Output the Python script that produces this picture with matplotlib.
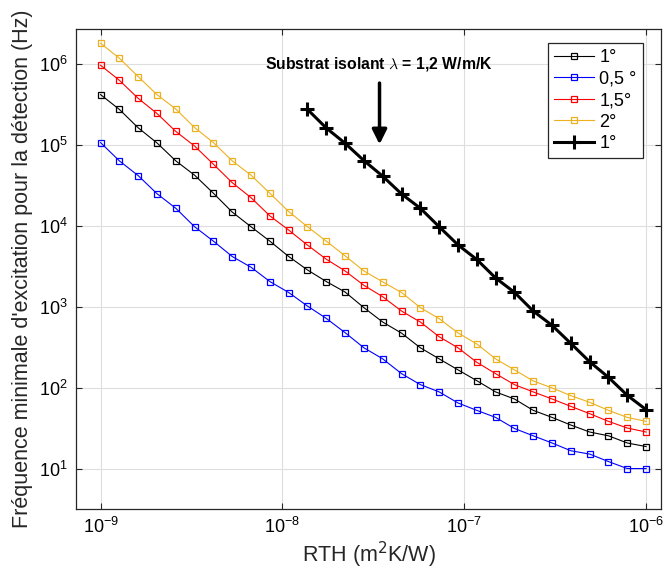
import matplotlib
matplotlib.use("Agg")
import matplotlib.pyplot as plt

plt.rcParams['font.family'] = ['Liberation Sans', 'DejaVu Sans']
plt.rcParams['axes.unicode_minus'] = False

# RTH grid (m2K/W), log-spaced from 1e-9 to 1e-6
rth = [1.000e-9, 1.269e-9, 1.610e-9, 2.043e-9, 2.593e-9, 3.290e-9, 4.175e-9,
       5.298e-9, 6.723e-9, 8.532e-9, 1.083e-8, 1.374e-8, 1.743e-8, 2.212e-8,
       2.807e-8, 3.562e-8, 4.520e-8, 5.736e-8, 7.279e-8, 9.238e-8, 1.172e-7,
       1.487e-7, 1.887e-7, 2.395e-7, 3.039e-7, 3.857e-7, 4.894e-7, 6.211e-7,
       7.881e-7, 1.000e-6]

f_1deg = [4.19e5, 2.75e5, 1.63e5, 1.06e5, 6.36e4, 4.23e4, 2.53e4, 1.48e4,
          9.75e3, 6.47e3, 4.18e3, 2.85e3, 2.05e3, 1.52e3, 975, 647, 472, 311,
          227, 166, 122, 88.6, 72.5, 52.4, 42.9, 34.5, 28.3, 25.4, 20.7, 18.7]
f_05deg = [1.07e5, 6.36e4, 4.18e4, 2.50e4, 1.65e4, 9.75e3, 6.47e3, 4.18e3,
           3.08e3, 2.05e3, 1.50e3, 1.02e3, 718, 478, 311, 227, 149, 109, 88.6,
           64.7, 52.4, 42.9, 31.3, 25.4, 20.7, 16.6, 15.1, 12.2, 10, 10]
f_15deg = [9.66e5, 6.30e5, 3.77e5, 2.45e5, 1.47e5, 9.70e4, 5.78e4, 3.42e4,
           2.23e4, 1.33e4, 8.87e3, 5.78e3, 3.87e3, 2.77e3, 1.84e3, 1.33e3, 885,
           647, 426, 311, 206, 149, 109, 88.6, 72.5, 58.7, 47.7, 38.3, 31.7, 28.3]
f_2deg = [1.81e6, 1.18e6, 7.00e5, 4.19e5, 2.78e5, 1.64e5, 1.07e5, 6.36e4,
          4.23e4, 2.53e4, 1.50e4, 9.75e3, 6.47e3, 4.26e3, 2.77e3, 2.03e3,
          1.50e3, 975, 713, 475, 347, 227, 166, 121, 99.3, 79.7, 65.8, 52.4,
          42.9, 38.3]
# substrat isolant, 1 deg (points 11 to 29 of the grid)
rth_iso = rth[11:]
f_iso = [2.75e5, 1.62e5, 1.05e5, 6.41e4, 4.11e4, 2.48e4, 1.65e4, 9.75e3,
         5.82e3, 3.84e3, 2.27e3, 1.51e3, 885, 589, 352, 209, 134, 80.4, 53.5]

labels = ['1°', '0,5 °', '1,5°', '2°', '1°']
orange = '#EDB120'

fig = plt.figure(figsize=(6.65, 5.8), dpi=100)
ax = fig.add_axes([0.1143, 0.1224, 0.8797, 0.8271])

ms = 5
ax.plot(rth, f_1deg, '-s', color='k', lw=0.8, ms=ms, mfc='none', mew=0.9, label=labels[0])
ax.plot(rth, f_05deg, '-s', color='b', lw=0.8, ms=ms, mfc='none', mew=0.9, label=labels[1])
ax.plot(rth, f_15deg, '-s', color='r', lw=0.8, ms=ms, mfc='none', mew=0.9, label=labels[2])
ax.plot(rth, f_2deg, '-s', color=orange, lw=0.8, ms=ms, mfc='none', mew=0.9, label=labels[3])
ax.plot(rth_iso, f_iso, '-+', color='k', lw=2.2, ms=10, mew=2.2, label=labels[4])

ax.set_xscale('log')
ax.set_yscale('log')
ax.set_xlim(10**-9.135, 10**-5.918)
ax.set_ylim(10**0.5, 10**6.43)
ax.set_xticks([1e-9, 1e-8, 1e-7, 1e-6])
ax.set_yticks([1e1, 1e2, 1e3, 1e4, 1e5, 1e6])
ax.minorticks_off()

ax.grid(True, color='#dedede', lw=0.8)
ax.set_axisbelow(True)
ax.tick_params(which='both', direction='in', top=True, right=True,
               length=4, width=0.8, color='#262626', labelsize=13, pad=6)
for s in ax.spines.values():
    s.set_color('#262626')
    s.set_linewidth(0.9)

ax.set_xlabel('RTH (m$^2$K/W)', fontsize=15.5, color='#262626', labelpad=2)
ax.set_ylabel("Fréquence minimale d'excitation pour la détection (Hz)",
              fontsize=15.5, color='#262626', labelpad=4)

ax.annotate('', xy=(3.42e-8, 9.4e4), xytext=(3.42e-8, 6.3e5),
            arrowprops=dict(arrowstyle='-|>', lw=2.5, color='k', mutation_scale=22))
ax.text(3.4e-8, 1.0e6, r'Substrat isolant $\lambda$ = 1,2 W/m/K', fontsize=11.3,
        fontweight='bold', ha='center', va='center', math_fontfamily='cm')

leg = ax.legend(loc='upper right', bbox_to_anchor=(0.969, 0.972), borderaxespad=0,
                fontsize=13, fancybox=False, framealpha=1, edgecolor='#262626',
                handlelength=2.2, labelspacing=0.25, handletextpad=0.3,
                borderpad=0.35)
leg.get_frame().set_linewidth(0.9)

fig.savefig('out.png', dpi=100)
